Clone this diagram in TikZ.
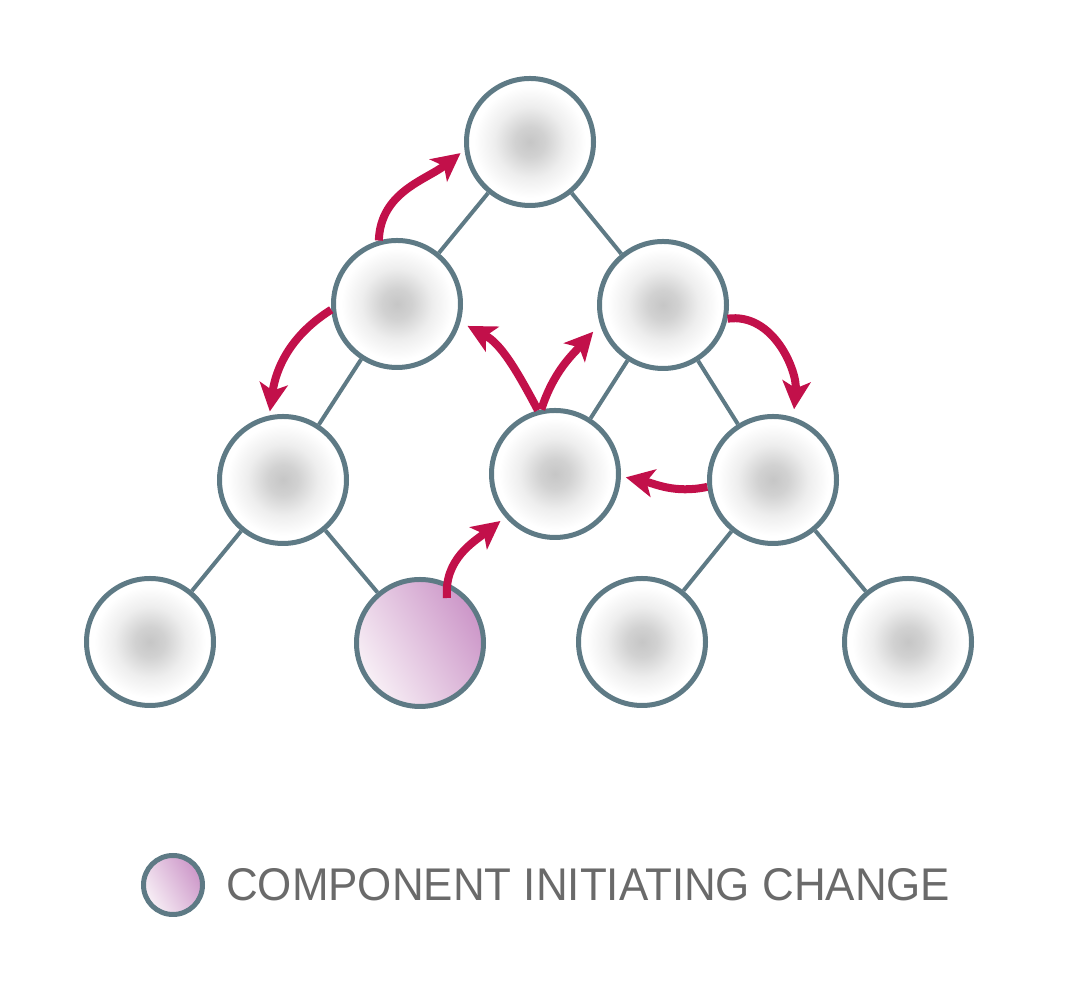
\documentclass[tikz,border=0pt]{standalone}
\usepackage{graphicx}
\usepackage{fontspec}
\newfontfamily\keyfont{Liberation Sans}
\usetikzlibrary{arrows.meta,positioning}

\definecolor{edgegray}{RGB}{94,122,133}
\definecolor{flowred}{RGB}{194,16,74}
\definecolor{glowgray}{RGB}{198,198,198}
\definecolor{plumlight}{RGB}{248,240,246}
\definecolor{plumdark}{RGB}{204,150,200}
\definecolor{keygray}{RGB}{106,106,106}

\pgfdeclareradialshading{ballglow}{\pgfpoint{0bp}{0bp}}{%
  color(0bp)=(glowgray); color(6bp)=(glowgray!80!white);
  color(14bp)=(glowgray!30!white); color(22bp)=(white); color(50bp)=(white)}

\begin{document}
\begin{tikzpicture}[x=1pt, y=1pt,
    ball/.style={circle, draw=edgegray, line width=5pt, inner sep=0pt,
      minimum size=127pt, shading=ballglow},
    start ball/.style={ball, top color=plumdark, bottom color=plumlight,
      shading angle=-60},
    link/.style={draw=edgegray, line width=4pt},
    flow/.style={draw=flowred, line width=8pt,
      -{Stealth[length=28pt, width=28pt, inset=7pt]}}]
				\useasboundingbox (0,0) rectangle (1074,992);

				% Manual node positions
				\node[ball] (T) at (530,850) {};
				\node[ball] (A) at (397,688) {};
				\node[ball] (B) at (663,687) {};
				\node[ball] (C) at (283,512) {};
				\node[ball] (D) at (555,518) {};
				\node[ball] (E) at (773,512) {};
				\node[ball] (F) at (150,350) {};
				\node[start ball] (G) at (420,349) {};
				\node[ball] (H) at (642,350) {};
				\node[ball] (K) at (908,350) {};

				% Connections
				\draw[link] (T) -- (A);
				\draw[link] (T) -- (B);
				\draw[link] (A) -- (C);
				\draw[link] (B) -- (D);
				\draw[link] (B) -- (E);
				\draw[link] (C) -- (F);
				\draw[link] (C) -- (G);
				\draw[link] (E) -- (H);
				\draw[link] (E) -- (K);

				% Change flow
				\draw[flow, shorten >=5pt] (A.106) to[out=88, in=218] (T.187);
				\draw[flow, shorten >=4pt] (A.185) to[out=212, in=82] (C.102);
				\draw[flow, shorten >=8pt] (D.105) to[out=118, in=-28] (A.-16);
				\draw[flow, shorten >=10pt] (D.102) to[out=72, in=228] (B.197);
				\draw[flow, shorten >=8pt] (B.-12) to[out=8, in=85] (E.72);
				\draw[flow, shorten >=5pt] (E.186) to[out=192, in=-12] (D.-2);
				\draw[flow, shorten >=6pt] ([shift={(27,45)}]G.center) to[out=95, in=218] (D.221);

				% Legend
				\node[start ball, minimum size=59pt] (key) at (173,107) {};
				\node[right=21pt of key, inner sep=0pt, text=keygray] (keytext)
					{\resizebox{724pt}{32pt}{\keyfont COMPONENT INITIATING CHANGE}};

			\end{tikzpicture}
\end{document}
